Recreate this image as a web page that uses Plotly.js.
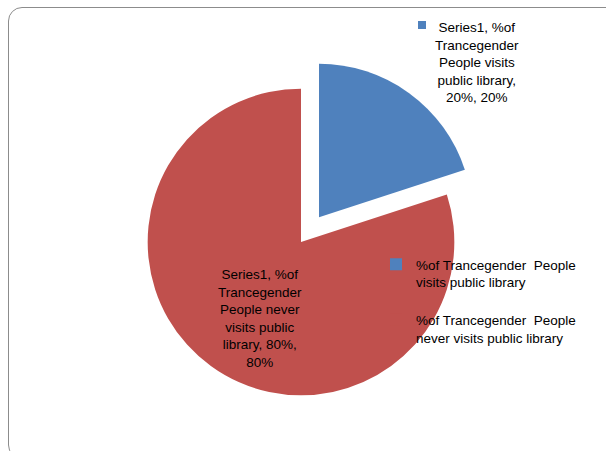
<!DOCTYPE html>
<html>
<head>
<meta charset="utf-8">
<script src="https://cdn.plot.ly/plotly-3.0.1.min.js"></script>
<style>
  html, body { margin: 0; padding: 0; background: #fff; overflow: hidden; }
  #wrap { position: relative; width: 606px; height: 451px; }
  #chart { position: absolute; left: 0; top: 0; width: 606px; height: 451px; }
  #frame { position: absolute; left: 8px; top: 7px; width: 612px; height: 452px;
           border: 1px solid #8c8c8c; border-radius: 14px; box-sizing: border-box;
           pointer-events: none; }
</style>
</head>
<body>
<div id="wrap">
  <div id="chart"></div>
  <div id="frame"></div>
</div>
<script>
// ---- data ----
const seriesName = 'Series1';
const categories = [
  '%of Trancegender  People visits public library',
  '%of Trancegender  People never visits public library'
];
const values = [0.20, 0.80];
const colors = ['#4F81BD', '#C0504D'];
const pulls = [0.2, 0];

// ---- helpers ----
function wrap(text, maxChars) {
  const tokens = text.split(' ');
  const lines = [];
  let line = null;
  tokens.forEach(t => {
    if (line === null) { line = t; return; }
    const cand = line + ' ' + t;
    if (cand.length > maxChars && t !== '') { lines.push(line.replace(/\s+$/, '')); line = t; }
    else line = cand;
  });
  if (line !== null) lines.push(line);
  return lines.join('<br>');
}
const total = values.reduce((a, b) => a + b, 0);
const pct = v => Math.round(v * 100) + '%';
const dataLabels = categories.map((c, i) =>
  wrap(seriesName + ', ' + c + ', ' + pct(values[i] / total) + ', ' + pct(values[i]), 15));
// legend entries separated by a blank line, as in the source chart
const legendLabels = categories.map((c, i) =>
  wrap(c, 27) + (i < categories.length - 1 ? '<br> ' : ''));

const FONT = 'Liberation Sans, Arial, sans-serif';
const FS = 13.5;

const trace = {
  type: 'pie',
  labels: legendLabels,
  values: values,
  sort: false,
  direction: 'clockwise',
  rotation: 0,
  pull: pulls,
  marker: { colors: colors, line: { width: 0 } },
  textinfo: 'none',
  hoverinfo: 'percent',
  domain: { x: [0.1467, 0.8467], y: [0, 1] },
  showlegend: true
};

const layout = {
  width: 606,
  height: 451,
  margin: { l: 0, r: 0, t: 58, b: 25 },
  paper_bgcolor: 'rgba(0,0,0,0)',
  plot_bgcolor: 'rgba(0,0,0,0)',
  font: { family: FONT, size: FS, color: '#000' },
  showlegend: true,
  legend: {
    x: 0.6205, xanchor: 'left',
    y: 0.481, yanchor: 'top',
    valign: 'top',
    bgcolor: 'rgba(0,0,0,0)',
    font: { family: FONT, size: FS, color: '#000' }
  },
  annotations: [
    { text: dataLabels[0], xref: 'paper', yref: 'paper', x: 477 / 606, y: (426 - 62) / 368,
      xanchor: 'center', yanchor: 'middle', showarrow: false, align: 'center',
      font: { family: FONT, size: FS, color: '#000' } },
    { text: dataLabels[1], xref: 'paper', yref: 'paper', x: 260 / 606, y: (426 - 318) / 368,
      xanchor: 'center', yanchor: 'middle', showarrow: false, align: 'center',
      font: { family: FONT, size: FS, color: '#000' } }
  ],
  shapes: [
    { type: 'rect', xref: 'paper', yref: 'paper',
      x0: 418 / 606, x1: 426 / 606, y0: (426 - 29) / 368, y1: (426 - 21) / 368,
      fillcolor: colors[0], line: { width: 0 } }
  ]
};

Plotly.newPlot('chart', [trace], layout, { displayModeBar: false, staticPlot: true });
</script>
</body>
</html>
